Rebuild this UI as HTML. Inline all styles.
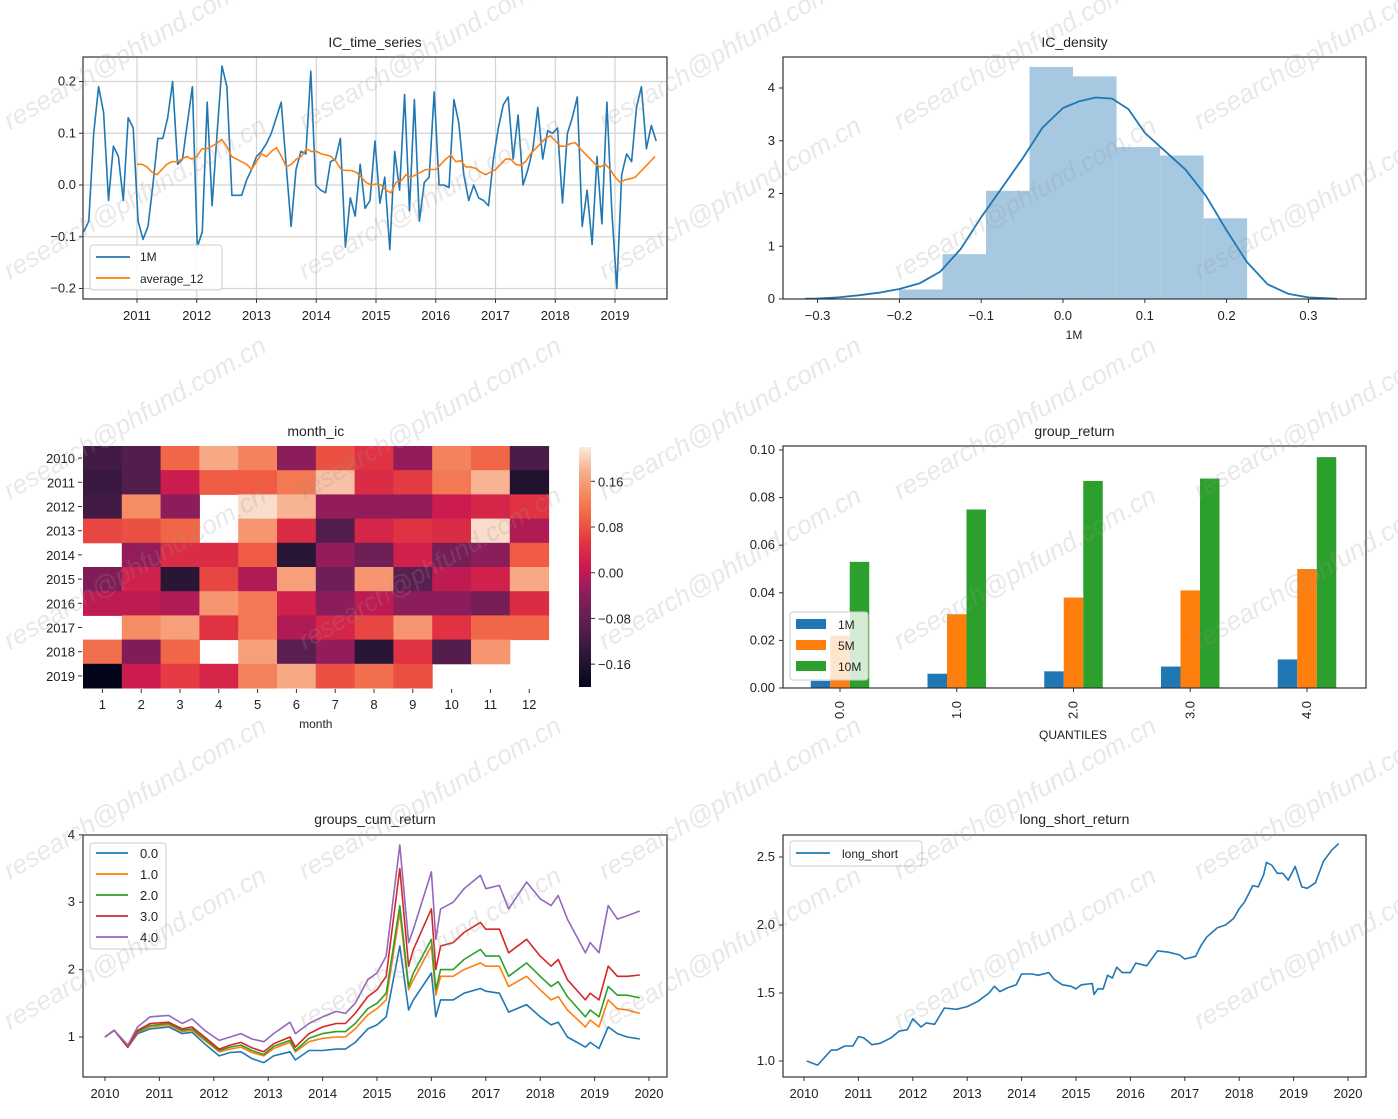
<!DOCTYPE html>
<html><head><meta charset="utf-8"><style>
html,body{margin:0;padding:0;background:#fff;}
svg{display:block;font-family:"Liberation Sans","Noto Sans CJK SC",sans-serif;}
</style></head><body>
<svg id="s" width="1398" height="1119" viewBox="0 0 1398 1119" xmlns="http://www.w3.org/2000/svg"></svg>
<script>
// ---------- DATA ----------
const ic1m = [-0.09,-0.07,0.10,0.19,0.14,-0.03,0.075,0.055,-0.03,0.13,0.11,-0.07,
-0.105,-0.08,0.0,0.09,0.09,0.13,0.20,0.04,0.05,0.12,0.19,-0.12,
-0.09,0.16,-0.04,0.10,0.23,0.19,-0.02,-0.02,-0.02,0.01,0.03,0.055,
0.065,0.08,0.10,0.13,0.16,0.04,-0.08,0.03,0.065,0.06,0.22,0.00,
-0.01,-0.015,0.045,0.05,0.09,-0.12,-0.025,-0.06,0.04,-0.045,-0.03,0.085,
-0.035,0.015,-0.125,0.065,-0.01,0.175,-0.05,0.165,-0.07,0.005,0.015,0.18,
0.00,0.00,-0.005,0.165,0.12,0.02,-0.03,0.00,-0.025,-0.03,-0.04,0.05,
0.11,0.155,0.17,0.05,0.135,0.00,0.03,0.07,0.15,0.05,0.105,0.10,
0.11,-0.035,0.10,0.13,0.17,-0.08,-0.01,-0.115,0.055,-0.075,0.16,-0.05,
-0.20,0.02,0.06,0.045,0.15,0.19,0.07,0.115,0.085];
const icAvg12 = [0.04,0.04,0.035,0.025,0.02,0.03,0.04,0.045,0.045,0.05,0.055,0.05,
0.055,0.07,0.07,0.075,0.08,0.088,0.075,0.055,0.05,0.045,0.04,0.03,
0.045,0.06,0.055,0.065,0.072,0.055,0.035,0.04,0.05,0.055,0.07,0.065,
0.065,0.06,0.058,0.055,0.045,0.03,0.028,0.028,0.025,0.015,0.005,0.0,
0.002,0.0,-0.01,-0.015,0.005,0.008,0.02,0.015,0.02,0.025,0.03,0.03,
0.03,0.04,0.05,0.058,0.045,0.047,0.035,0.035,0.032,0.025,0.02,0.025,
0.03,0.04,0.05,0.05,0.04,0.038,0.045,0.06,0.07,0.08,0.09,0.095,
0.085,0.075,0.075,0.08,0.082,0.07,0.06,0.05,0.04,0.035,0.04,0.03,
0.015,0.005,0.01,0.012,0.015,0.025,0.035,0.045,0.055];
const tsYearTicks = [2011,2012,2013,2014,2015,2016,2017,2018,2019];
const tsValueTicks = [-0.2,-0.1,0.0,0.1,0.2];

const histBinStart = -0.2005, histBinWidth = 0.0532;
const histHeights = [0.18,0.85,2.05,4.4,4.22,2.88,2.72,1.53];
const kdeX = [-0.315,-0.3,-0.275,-0.25,-0.225,-0.2,-0.175,-0.15,-0.125,-0.1,-0.075,-0.05,-0.025,0,0.02,0.04,0.06,0.08,0.1,0.125,0.15,0.175,0.2,0.225,0.25,0.275,0.3,0.335];
const kdeY = [0.005,0.01,0.03,0.07,0.12,0.19,0.3,0.52,0.95,1.55,2.1,2.65,3.25,3.62,3.75,3.82,3.8,3.6,3.15,2.8,2.45,1.95,1.3,0.7,0.28,0.1,0.03,0.003];
const densXTicks = [-0.3,-0.2,-0.1,0.0,0.1,0.2,0.3];
const densYTicks = [0,1,2,3,4];

const heatYears = [2010,2011,2012,2013,2014,2015,2016,2017,2018,2019];
const heatMonths = [1,2,3,4,5,6,7,8,9,10,11,12];
const heatValues = [
[-0.12,-0.10,0.10,0.17,0.13,-0.04,0.08,0.05,-0.03,0.13,0.10,-0.11],
[-0.13,-0.10,0.01,0.09,0.09,0.12,0.19,0.04,0.06,0.12,0.18,-0.16],
[-0.12,0.14,-0.04,null,0.21,0.18,-0.03,-0.03,-0.03,0.01,0.03,0.05],
[0.07,0.08,0.10,null,0.15,0.04,-0.10,0.03,0.05,0.04,0.21,-0.01],
[null,-0.03,0.04,0.04,0.09,-0.15,-0.03,-0.07,0.02,-0.06,-0.04,0.09],
[-0.05,0.02,-0.15,0.07,-0.01,0.16,-0.07,0.15,-0.09,0.00,0.02,0.17],
[0.00,0.00,-0.01,0.15,0.12,0.02,-0.04,0.00,-0.04,-0.04,-0.06,0.04],
[null,0.14,0.16,0.05,0.12,-0.01,0.03,0.07,0.15,0.05,0.10,0.10],
[0.11,-0.05,0.10,null,0.16,-0.09,-0.03,-0.15,0.05,-0.10,0.15,null],
[-0.20,0.01,0.06,0.03,0.13,0.17,0.08,0.11,0.08,null,null,null]];
const cbTicks = [-0.16,-0.08,0.00,0.08,0.16];

const quantiles = ["0.0","1.0","2.0","3.0","4.0"];
const grp1M = [0.003,0.006,0.007,0.009,0.012];
const grp5M = [0.022,0.031,0.038,0.041,0.050];
const grp10M = [0.053,0.075,0.087,0.088,0.097];
const grpYTicks = [0.00,0.02,0.04,0.06,0.08,0.10];

const cumT = [2010.0,2010.17,2010.42,2010.6,2010.83,2011.17,2011.42,2011.6,2011.83,2012.1,2012.3,2012.5,2012.7,2012.92,2013.1,2013.4,2013.5,2013.75,2014.0,2014.25,2014.42,2014.6,2014.83,2015.0,2015.17,2015.42,2015.58,2015.67,2016.0,2016.08,2016.17,2016.4,2016.6,2016.9,2017.0,2017.25,2017.42,2017.75,2018.0,2018.2,2018.33,2018.5,2018.83,2018.92,2019.08,2019.25,2019.42,2019.6,2019.83];
const cumQ4 = [1.0,1.1,0.88,1.15,1.3,1.32,1.2,1.27,1.1,0.95,1.0,1.05,0.97,0.93,1.05,1.22,1.05,1.2,1.3,1.38,1.35,1.5,1.85,1.95,2.2,3.85,2.4,2.6,3.45,2.45,2.9,3.0,3.2,3.4,3.2,3.25,2.9,3.3,3.05,2.95,3.1,2.75,2.25,2.4,2.25,2.95,2.75,2.8,2.87];
const cumQ3 = [1.0,1.1,0.85,1.1,1.2,1.22,1.12,1.15,1.0,0.82,0.88,0.92,0.84,0.78,0.9,1.0,0.85,1.05,1.15,1.2,1.2,1.35,1.6,1.7,1.9,3.5,2.05,2.3,2.9,2.0,2.35,2.4,2.55,2.7,2.6,2.6,2.25,2.45,2.2,2.05,2.15,1.85,1.55,1.65,1.55,2.05,1.9,1.9,1.92];
const cumQ2 = [1.0,1.1,0.85,1.08,1.17,1.2,1.1,1.12,0.97,0.8,0.85,0.88,0.8,0.74,0.86,0.95,0.8,0.98,1.05,1.08,1.08,1.2,1.42,1.5,1.65,2.95,1.75,1.95,2.45,1.7,2.0,2.0,2.15,2.3,2.2,2.2,1.9,2.1,1.9,1.75,1.82,1.6,1.3,1.4,1.3,1.75,1.62,1.62,1.58];
const cumQ1 = [1.0,1.1,0.85,1.07,1.15,1.18,1.08,1.1,0.95,0.78,0.82,0.85,0.77,0.72,0.83,0.92,0.78,0.93,0.98,1.0,1.0,1.12,1.33,1.42,1.55,2.85,1.7,1.85,2.35,1.62,1.9,1.9,2.0,2.1,2.05,2.05,1.75,1.9,1.7,1.55,1.6,1.4,1.15,1.25,1.15,1.55,1.42,1.4,1.35];
const cumQ0 = [1.0,1.1,0.85,1.05,1.12,1.15,1.05,1.07,0.9,0.72,0.77,0.78,0.68,0.62,0.72,0.78,0.66,0.8,0.8,0.82,0.82,0.92,1.12,1.18,1.3,2.35,1.4,1.55,1.95,1.3,1.55,1.55,1.65,1.72,1.68,1.65,1.37,1.48,1.3,1.18,1.22,1.0,0.85,0.92,0.83,1.15,1.05,1.0,0.97];
const cumYTicks = [1,2,3,4];
const decadeTicks = [2010,2011,2012,2013,2014,2015,2016,2017,2018,2019,2020];

const lsT = [2010.05,2010.25,2010.5,2010.6,2010.75,2010.9,2011.0,2011.1,2011.25,2011.4,2011.6,2011.75,2011.9,2012.0,2012.15,2012.25,2012.4,2012.58,2012.8,2013.0,2013.2,2013.4,2013.5,2013.6,2013.75,2013.9,2014.0,2014.2,2014.3,2014.5,2014.6,2014.75,2014.9,2015.0,2015.1,2015.3,2015.33,2015.4,2015.5,2015.58,2015.67,2015.75,2015.85,2016.0,2016.1,2016.3,2016.5,2016.7,2016.9,2017.0,2017.2,2017.3,2017.4,2017.6,2017.75,2017.9,2018.0,2018.1,2018.25,2018.35,2018.45,2018.5,2018.6,2018.7,2018.8,2018.9,2019.03,2019.15,2019.25,2019.4,2019.55,2019.7,2019.83];
const lsV = [1.0,0.97,1.08,1.08,1.11,1.11,1.18,1.17,1.12,1.13,1.17,1.22,1.23,1.31,1.25,1.28,1.27,1.39,1.38,1.40,1.44,1.5,1.55,1.51,1.54,1.56,1.64,1.64,1.63,1.65,1.6,1.56,1.55,1.53,1.56,1.57,1.49,1.53,1.53,1.63,1.61,1.69,1.65,1.65,1.72,1.7,1.81,1.8,1.78,1.75,1.77,1.85,1.91,1.98,2.0,2.05,2.12,2.17,2.29,2.28,2.37,2.46,2.44,2.38,2.38,2.33,2.43,2.28,2.27,2.31,2.47,2.55,2.6];
const lsYTicks = [1.0,1.5,2.0,2.5];

// ---------- HELPERS ----------
const NS = "http://www.w3.org/2000/svg";
const svg = document.getElementById('s');
function mk(tag, attrs, name, parent) {
  const el = document.createElementNS(NS, tag);
  for (const k in attrs) el.setAttribute(k, attrs[k]);
  
  
  (parent || svg).appendChild(el);
  return el;
}
function txt(x, y, s, name, opts) {
  opts = opts || {};
  const el = mk('text', {x: x, y: y, 'font-size': opts.size || 13, fill: opts.fill || '#222', 'text-anchor': opts.anchor || 'middle'}, name, opts.parent);
  if (opts.transform) el.setAttribute('transform', opts.transform);
  el.textContent = s;
  return el;
}
function lin(d0, d1, r0, r1) { return v => r0 + (v - d0) * (r1 - r0) / (d1 - d0); }
function frame(x0, y0, x1, y1, name) {
  mk('rect', {x: x0, y: y0, width: x1 - x0, height: y1 - y0, fill: 'none', stroke: '#333', 'stroke-width': 1.2}, name);
}
function poly(xs, ys, color, name, w) {
  let d = '';
  for (let i = 0; i < xs.length; i++) d += (i ? 'L' : 'M') + xs[i].toFixed(1) + ',' + ys[i].toFixed(1);
  mk('path', {d: d, fill: 'none', stroke: color, 'stroke-width': w || 1.6, 'stroke-linejoin': 'round'}, name);
}
function fmt(v, n) { return (v < 0 ? '\u2212' : '') + Math.abs(v).toFixed(n); }
const C0 = '#1f77b4', C1 = '#ff7f0e', C2 = '#2ca02c', C3 = '#d62728', C4 = '#9467bd';

// ---------- 1. IC time series ----------
{
  const L = 83, R = 667, T = 57, B = 299;
  const x = lin(2011, 2012, 137, 196.75), y = lin(0, 0.1, 185, 133.25);
  mk('rect', {x: L, y: T, width: R - L, height: B - T, fill: '#fff'}, 'ic-ts-plot-area');
  tsValueTicks.forEach(v => {
    mk('line', {x1: L, x2: R, y1: y(v), y2: y(v), stroke: '#d4d4d4', 'stroke-width': 1.2}, 'ic-ts-h-gridline');
    mk('line', {x1: L - 4, x2: L, y1: y(v), y2: y(v), stroke: '#333'}, 'ic-ts-y-tick');
    txt(L - 7, y(v) + 4, fmt(v, 1), 'ic-ts-y-tick-label', {anchor: 'end'});
  });
  tsYearTicks.forEach(t => {
    mk('line', {x1: x(t), x2: x(t), y1: T, y2: B, stroke: '#d4d4d4', 'stroke-width': 1.2}, 'ic-ts-v-gridline');
    mk('line', {x1: x(t), x2: x(t), y1: B, y2: B + 4, stroke: '#333'}, 'ic-ts-x-tick');
    txt(x(t), B + 21, String(t), 'ic-ts-x-tick-label');
  });
  const t0 = 2010.11, t1 = 2019.69;
  poly(ic1m.map((v, i) => x(t0 + i * (t1 - t0) / (ic1m.length - 1))), ic1m.map(y), C0, 'ic-1m-line');
  const a0 = 2011.0, a1 = 2019.67;
  poly(icAvg12.map((v, i) => x(a0 + i * (a1 - a0) / (icAvg12.length - 1))), icAvg12.map(y), C1, 'ic-average-12-line');
  frame(L, T, R, B, 'ic-ts-axes-frame');
  txt((L + R) / 2, 47, 'IC_time_series', 'ic-ts-title', {size: 14});
  mk('rect', {x: 90, y: 245, width: 132, height: 45, rx: 3, fill: 'rgba(255,255,255,0.85)', stroke: '#ccc'}, 'ic-ts-legend-box');
  mk('line', {x1: 96, x2: 130, y1: 257, y2: 257, stroke: C0, 'stroke-width': 1.8}, 'legend-1m-swatch');
  txt(140, 261, '1M', 'legend-1m-label', {anchor: 'start', size: 12});
  mk('line', {x1: 96, x2: 130, y1: 278, y2: 278, stroke: C1, 'stroke-width': 1.8}, 'legend-average-12-swatch');
  txt(140, 283, 'average_12', 'legend-average-12-label', {anchor: 'start', size: 12});
}

// ---------- 2. IC density ----------
{
  const L = 783, R = 1366, T = 57, B = 299;
  const x = lin(0, 0.1, 1063, 1144.8), y = lin(0, 1, 299, 246.25);
  histHeights.forEach((h, i) => {
    const e0 = histBinStart + i * histBinWidth, e1 = e0 + histBinWidth;
    mk('rect', {x: x(e0), y: y(h), width: x(e1) - x(e0), height: y(0) - y(h), fill: '#a6c8e0'}, 'ic-density-hist-bar');
  });
  poly(kdeX.map(x), kdeY.map(y), C0, 'ic-density-kde-line', 1.8);
  densYTicks.forEach(v => {
    mk('line', {x1: L - 4, x2: L, y1: y(v), y2: y(v), stroke: '#333'}, 'density-y-tick');
    txt(L - 8, y(v) + 4, String(v), 'density-y-tick-label', {anchor: 'end'});
  });
  densXTicks.forEach(v => {
    mk('line', {x1: x(v), x2: x(v), y1: B, y2: B + 4, stroke: '#333'}, 'density-x-tick');
    txt(x(v), B + 21, fmt(v, 1), 'density-x-tick-label');
  });
  frame(L, T, R, B, 'ic-density-axes-frame');
  txt((L + R) / 2, 47, 'IC_density', 'ic-density-title', {size: 14});
  txt(1074, 339, '1M', 'density-x-axis-title', {size: 12});
}

// ---------- 3. month IC heatmap ----------
{
  const L = 83, T = 446, cw = 38.8, ch = 24.2;
  const vmin = -0.2, vmax = 0.22;
  const stops = [[3,5,26],[34,19,49],[69,28,71],[105,31,85],[146,28,91],[203,27,79],[225,51,66],[240,96,67],[245,136,96],[247,176,142],[250,235,221]];
  function rocket(v) {
    let p = Math.max(0, Math.min(1, (v - vmin) / (vmax - vmin))) * (stops.length - 1);
    const i = Math.min(stops.length - 2, Math.floor(p)), f = p - i;
    const c = stops[i].map((s, k) => Math.round(s + (stops[i + 1][k] - s) * f));
    return 'rgb(' + c.join(',') + ')';
  }
  heatValues.forEach((row, r) => row.forEach((v, c) => {
    if (v === null) return;
    mk('rect', {x: L + c * cw, y: T + r * ch, width: cw + 0.5, height: ch + 0.5, fill: rocket(v)}, 'month-ic-cell');
  }));
  heatYears.forEach((yr, r) => {
    mk('line', {x1: L - 5, x2: L - 1, y1: T + (r + 0.5) * ch, y2: T + (r + 0.5) * ch, stroke: '#333'}, 'heatmap-y-tick');
    txt(L - 8, T + (r + 0.5) * ch + 5, String(yr), 'heatmap-year-label', {anchor: 'end'});
  });
  heatMonths.forEach((m, c) => {
    mk('line', {x1: L + (c + 0.5) * cw, x2: L + (c + 0.5) * cw, y1: T + 10 * ch + 1, y2: T + 10 * ch + 5, stroke: '#333'}, 'heatmap-x-tick');
    txt(L + (c + 0.5) * cw, 709, String(m), 'heatmap-month-label');
  });
  txt(L + 6 * cw, 728, 'month', 'heatmap-x-axis-title', {size: 12});
  txt(L + 6 * cw, 436, 'month_ic', 'month-ic-title', {size: 14});
  const defs = mk('defs', {}, 'colorbar-defs');
  const g = mk('linearGradient', {id: 'cb', x1: 0, y1: 1, x2: 0, y2: 0}, 'colorbar-gradient', defs);
  stops.forEach((s, i) => mk('stop', {offset: i / (stops.length - 1), 'stop-color': 'rgb(' + s.join(',') + ')'}, 'colorbar-stop', g));
  const cy = lin(vmin, vmax, 687, 447);
  mk('rect', {x: 579, y: 447, width: 12, height: 240, fill: 'url(#cb)'}, 'colorbar');
  cbTicks.forEach(v => {
    mk('line', {x1: 591, x2: 595, y1: cy(v), y2: cy(v), stroke: '#333'}, 'colorbar-tick');
    txt(598, cy(v) + 5, fmt(v, 2), 'colorbar-tick-label', {anchor: 'start'});
  });
}

// ---------- 4. group return ----------
{
  const L = 783, R = 1366, T = 446, B = 688;
  const y = lin(0, 0.1, 688, 450), cx = i => 840 + i * 116.75, bw = 19.5;
  [[grp1M, C0, 'bar-1m'], [grp5M, C1, 'bar-5m'], [grp10M, C2, 'bar-10m']].forEach((s, k) => {
    s[0].forEach((v, i) => {
      mk('rect', {x: cx(i) + (k - 1) * bw - bw / 2, y: y(v), width: bw, height: y(0) - y(v), fill: s[1]}, s[2]);
    });
  });
  grpYTicks.forEach(v => {
    mk('line', {x1: L - 4, x2: L, y1: y(v), y2: y(v), stroke: '#333'}, 'group-y-tick');
    txt(L - 8, y(v) + 4, v.toFixed(2), 'group-y-tick-label', {anchor: 'end'});
  });
  quantiles.forEach((q, i) => {
    mk('line', {x1: cx(i), x2: cx(i), y1: B, y2: B + 4, stroke: '#333'}, 'group-x-tick');
    txt(cx(i) + 4, B + 22, q, 'group-quantile-label', {transform: 'rotate(-90 ' + (cx(i) + 4) + ' ' + (B + 22) + ')', anchor: 'middle'});
  });
  frame(L, T, R, B, 'group-return-axes-frame');
  txt((L + R) / 2, 436, 'group_return', 'group-return-title', {size: 14});
  txt(1073, 739, 'QUANTILES', 'group-x-axis-title', {size: 12});
  mk('rect', {x: 790, y: 612, width: 78, height: 68, rx: 3, fill: 'rgba(255,255,255,0.8)', stroke: '#ccc'}, 'group-legend-box');
  [['1M', C0], ['5M', C1], ['10M', C2]].forEach((e, i) => {
    mk('rect', {x: 796, y: 619 + i * 21, width: 30, height: 10, fill: e[1]}, 'group-legend-swatch');
    txt(838, 629 + i * 21, e[0], 'group-legend-label', {anchor: 'start', size: 12});
  });
}

// ---------- 5. groups cum return ----------
{
  const L = 83, R = 667, T = 835, B = 1077;
  const x = lin(2010, 2020, 105, 649), y = lin(1, 2, 1037, 969.6);
  [[cumQ0, C0, 'cum-line-q0'], [cumQ1, C1, 'cum-line-q1'], [cumQ2, C2, 'cum-line-q2'], [cumQ3, C3, 'cum-line-q3'], [cumQ4, C4, 'cum-line-q4']].forEach(s => {
    poly(cumT.map(x), s[0].map(y), s[1], s[2]);
  });
  cumYTicks.forEach(v => {
    mk('line', {x1: L - 4, x2: L, y1: y(v), y2: y(v), stroke: '#333'}, 'cum-y-tick');
    txt(L - 8, y(v) + 4, String(v), 'cum-y-tick-label', {anchor: 'end'});
  });
  decadeTicks.forEach(t => {
    mk('line', {x1: x(t), x2: x(t), y1: B, y2: B + 4, stroke: '#333'}, 'cum-x-tick');
    txt(x(t), B + 21, String(t), 'cum-x-tick-label');
  });
  frame(L, T, R, B, 'cum-return-axes-frame');
  txt((L + R) / 2, 824, 'groups_cum_return', 'cum-return-title', {size: 14});
  mk('rect', {x: 90, y: 843, width: 76, height: 106, rx: 3, fill: 'rgba(255,255,255,0.85)', stroke: '#ccc'}, 'cum-legend-box');
  [['0.0', C0], ['1.0', C1], ['2.0', C2], ['3.0', C3], ['4.0', C4]].forEach((e, i) => {
    mk('line', {x1: 96, x2: 128, y1: 853 + i * 21, y2: 853 + i * 21, stroke: e[1], 'stroke-width': 1.8}, 'cum-legend-swatch');
    txt(140, 858 + i * 21, e[0], 'cum-legend-label', {anchor: 'start', size: 13});
  });
}

// ---------- 6. long short return ----------
{
  const L = 783, R = 1366, T = 835, B = 1077;
  const x = lin(2010, 2020, 804, 1348), y = lin(1, 2, 1061, 925);
  poly(lsT.map(x), lsV.map(y), C0, 'long-short-line');
  lsYTicks.forEach(v => {
    mk('line', {x1: L - 4, x2: L, y1: y(v), y2: y(v), stroke: '#333'}, 'ls-y-tick');
    txt(L - 8, y(v) + 4, v.toFixed(1), 'ls-y-tick-label', {anchor: 'end'});
  });
  decadeTicks.forEach(t => {
    mk('line', {x1: x(t), x2: x(t), y1: B, y2: B + 4, stroke: '#333'}, 'ls-x-tick');
    txt(x(t), B + 21, String(t), 'ls-x-tick-label');
  });
  frame(L, T, R, B, 'ls-axes-frame');
  txt((L + R) / 2, 824, 'long_short_return', 'ls-title', {size: 14});
  mk('rect', {x: 790, y: 841, width: 132, height: 25, rx: 3, fill: 'rgba(255,255,255,0.85)', stroke: '#ccc'}, 'ls-legend-box');
  mk('line', {x1: 796, x2: 830, y1: 853, y2: 853, stroke: C0, 'stroke-width': 1.8}, 'ls-legend-swatch');
  txt(842, 858, 'long_short', 'ls-legend-label', {anchor: 'start', size: 12});
}

// ---------- watermarks ----------
{
  const wmX = [10, 305, 605, 900, 1200];
  const wmY = [130, 500, 880];
  wmY.forEach(yy => wmX.forEach(xx => {
    const w1 = txt(xx, yy, 'research@phfund.com.cn', 'watermark', {anchor: 'start', size: 26, fill: 'rgba(150,150,150,0.22)', transform: 'rotate(-30 ' + xx + ' ' + yy + ')'});
    w1.setAttribute('font-style', 'italic');
    const w2 = txt(xx, yy + 150, 'research@phfund.com.cn', 'watermark', {anchor: 'start', size: 26, fill: 'rgba(150,150,150,0.22)', transform: 'rotate(-30 ' + xx + ' ' + (yy + 150) + ')'});
    w2.setAttribute('font-style', 'italic');
  }));
}
</script>
</body></html>
